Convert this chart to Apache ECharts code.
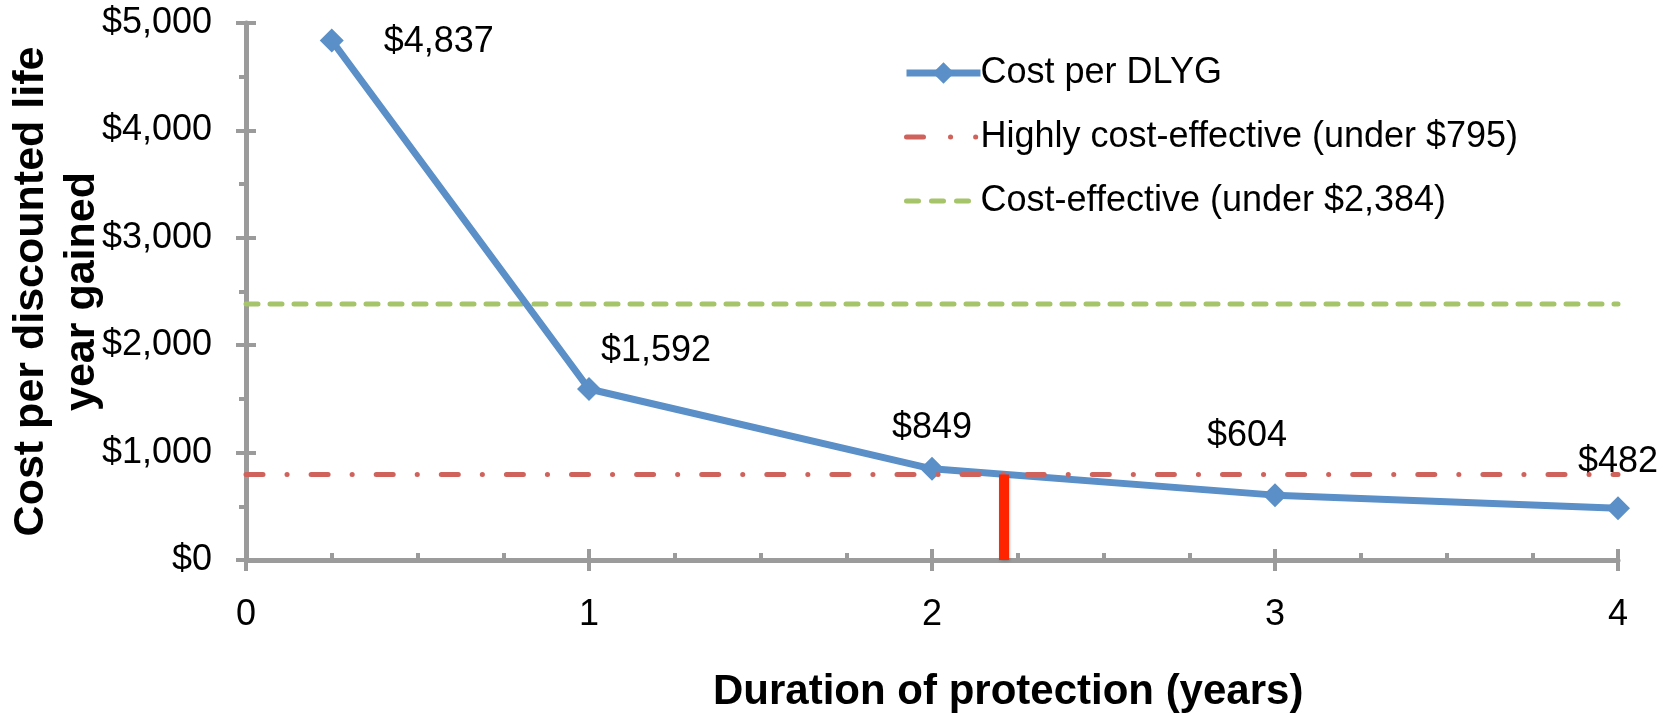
<!DOCTYPE html>
<html>
<head>
<meta charset="utf-8">
<script src="https://cdn.jsdelivr.net/npm/echarts@6/dist/echarts.min.js"></script>
<style>
  html, body { margin: 0; padding: 0; background: #ffffff; }
  #chart { width: 1673px; height: 714px; }
</style>
</head>
<body>
<div id="chart"></div>
<script>
// Duration of protection (years) for each estimate
const years = [0.25, 1, 2, 3, 4];
// Cost per discounted life year gained (USD)
const costPerDLYG = [4837, 1592, 849, 604, 482];
// Cost-effectiveness thresholds (USD)
const highlyCostEffective = 795;
const costEffective = 2384;
// Year at which the cost curve drops under the highly cost-effective threshold
const crossoverYear = 2.21;
// Axis ranges and tick steps
const xRange = [0, 4];
const xStep = 1;
const yRange = [0, 5000];
const yStep = 1000;
// Legend / series names
const seriesNames = [
  'Cost per DLYG',
  'Highly cost-effective (under $795)',
  'Cost-effective (under $2,384)'
];

const FONT = '"Liberation Sans", Arial, Helvetica, sans-serif';
const AXIS_GRAY = '#9b9b9b';
const BLUE = '#5a8fc8';
const RED = '#d0625c';
const GREEN = '#a6c469';
const money = v => '$' + Math.round(v).toLocaleString('en-US');

// Label placement for each point of the cost curve
const pointLabels = [
  { position: 'right', distance: 40, offset: [0, 2] },
  { position: 'top', distance: 16, offset: [67, 8] },
  { position: 'top', distance: 16, offset: [0, 5] },
  { position: 'top', distance: 16, offset: [-28, -13] },
  { position: 'top', distance: 16, offset: [0, 0] }
];

const curveData = years.map((y, i) => ({
  value: [y, costPerDLYG[i]],
  label: pointLabels[i]
}));

const gridRect = { left: 246, right: 55, top: 23, bottom: 154, outerBoundsMode: 'none', containLabel: false };

const chart = echarts.init(document.getElementById('chart'), null, { renderer: 'canvas' });

chart.setOption({
  animation: false,
  backgroundColor: '#ffffff',
  textStyle: { fontFamily: FONT },
  grid: [Object.assign({}, gridRect), Object.assign({}, gridRect)],
  title: {
    text: 'Duration of protection (years)',
    left: 713,
    top: 671,
    padding: 0,
    textStyle: { fontFamily: FONT, fontSize: 42, fontWeight: 'bold', color: '#000' }
  },
  legend: {
    orient: 'vertical',
    left: 903,
    top: 53,
    itemWidth: 74,
    itemHeight: 27,
    itemGap: 24,
    padding: 0,
    data: [
      {
        name: seriesNames[0],
        lineStyle: { width: 7, color: BLUE }
      },
      {
        name: seriesNames[1],
        itemStyle: { opacity: 0 },
        lineStyle: { width: 5, color: RED, type: [17, 27, 0.1, 25, 0.1, 30], cap: 'round' }
      },
      {
        name: seriesNames[2],
        itemStyle: { opacity: 0 },
        lineStyle: { width: 5, color: GREEN, type: [12, 13], cap: 'round' }
      }
    ],
    textStyle: { fontFamily: FONT, fontSize: 36, color: '#000', lineHeight: 40, padding: [0, 0, 0, -5] }
  },
  xAxis: [
    {
      type: 'value', gridIndex: 0,
      min: xRange[0], max: xRange[1], interval: xStep,
      axisLine: { show: true, lineStyle: { color: AXIS_GRAY, width: 5 } },
      axisTick: { show: true, inside: true, length: 11, lineStyle: { color: AXIS_GRAY, width: 4 } },
      minorTick: { show: true, splitNumber: 4, length: 7, lineStyle: { color: AXIS_GRAY, width: 4 } },
      splitLine: { show: false },
      axisLabel: { margin: 37, fontFamily: FONT, fontSize: 36, color: '#000' }
    },
    {
      type: 'value', gridIndex: 1,
      min: xRange[0], max: xRange[1], interval: xStep,
      axisLine: { show: false },
      axisTick: { show: true, inside: false, length: 11, lineStyle: { color: AXIS_GRAY, width: 4 } },
      splitLine: { show: false },
      axisLabel: { show: false }
    }
  ],
  yAxis: [
    {
      type: 'value', gridIndex: 0,
      min: yRange[0], max: yRange[1], interval: yStep,
      axisLine: { show: true, lineStyle: { color: AXIS_GRAY, width: 5 } },
      axisTick: { show: true, inside: false, length: 10, lineStyle: { color: AXIS_GRAY, width: 4 } },
      minorTick: { show: true, splitNumber: 2, length: 7, lineStyle: { color: AXIS_GRAY, width: 4 } },
      splitLine: { show: false },
      axisLabel: { margin: 34, fontFamily: FONT, fontSize: 36, color: '#000', formatter: money },
      name: 'Cost per discounted life\nyear gained',
      nameLocation: 'middle',
      nameRotate: 90,
      nameGap: 138,
      nameMoveOverlap: false,
      nameTextStyle: { fontFamily: FONT, fontSize: 43, fontWeight: 'bold', color: '#000', lineHeight: 51 }
    },
    {
      type: 'value', gridIndex: 1,
      min: yRange[0], max: yRange[1], interval: yStep,
      axisLine: { show: false },
      axisTick: { show: true, inside: true, length: 10, lineStyle: { color: AXIS_GRAY, width: 4 } },
      splitLine: { show: false },
      axisLabel: { show: false }
    }
  ],
  series: [
    {
      name: seriesNames[2],
      type: 'line',
      xAxisIndex: 0, yAxisIndex: 0,
      data: [[xRange[0], costEffective], [xRange[1], costEffective]],
      symbol: 'none',
      silent: true,
      z: 2,
      lineStyle: { color: GREEN, width: 5, type: [12, 12], cap: 'round' },
      itemStyle: { color: GREEN }
    },
    {
      name: seriesNames[1],
      type: 'line',
      xAxisIndex: 0, yAxisIndex: 0,
      data: [[xRange[0], highlyCostEffective], [xRange[1], highlyCostEffective]],
      symbol: 'none',
      silent: true,
      z: 4,
      lineStyle: { color: RED, width: 5, type: [17, 24, 0.1, 24], cap: 'round' },
      itemStyle: { color: RED }
    },
    {
      name: seriesNames[0],
      type: 'line',
      xAxisIndex: 0, yAxisIndex: 0,
      data: curveData,
      symbol: 'diamond',
      symbolSize: 24,
      z: 3,
      lineStyle: { color: BLUE, width: 7 },
      itemStyle: { color: BLUE },
      label: {
        show: true,
        fontFamily: FONT,
        fontSize: 36,
        color: '#000',
        formatter: p => money(p.value[1])
      }
    },
    {
      name: 'crossover',
      type: 'line',
      xAxisIndex: 0, yAxisIndex: 0,
      data: [[crossoverYear, 0], [crossoverYear, highlyCostEffective]],
      symbol: 'none',
      silent: true,
      z: 5,
      lineStyle: {
        color: '#ff2400', width: 10,
        shadowColor: 'rgba(0,0,0,0.3)', shadowBlur: 3, shadowOffsetX: 1, shadowOffsetY: 1
      }
    }
  ]
});
</script>
</body>
</html>
